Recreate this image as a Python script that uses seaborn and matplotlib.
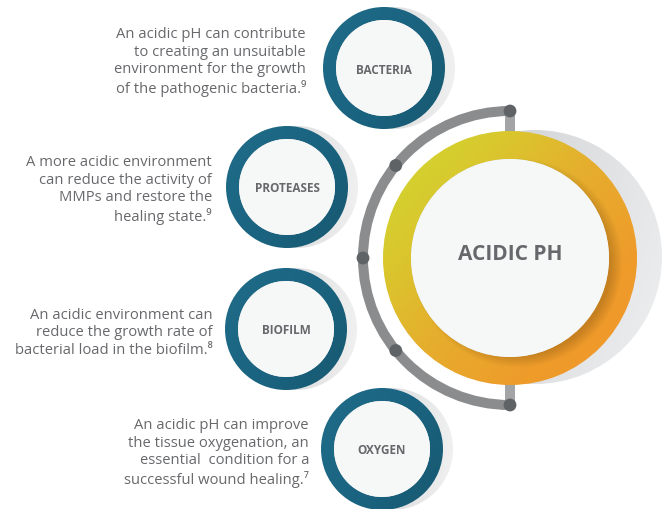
import numpy as np
import matplotlib
matplotlib.use("Agg")
import matplotlib.pyplot as plt
from matplotlib.patches import Circle, Wedge, Arc
from matplotlib.colors import LinearSegmentedColormap
import seaborn as sns
import pandas as pd

# ---- content ----
topics = ["BACTERIA", "PROTEASES", "BIOFILM", "OXYGEN"]
descriptions = [
    "An acidic pH can contribute\nto creating an unsuitable\nenvironment for the growth\nof the pathogenic bacteria.\u2079",
    "A more acidic environment\ncan reduce the activity of\nMMPs and restore the\nhealing state.\u2079",
    "An acidic environment can\nreduce the growth rate of\nbacterial load in the biofilm.\u2078",
    "An acidic pH can improve\nthe tissue oxygenation, an\nessential  condition for a\nsuccessful wound healing.\u2077",
]
center_label = "ACIDIC PH"
arc_dot_angles = [90, 141, 180, 219, 270]

# ---- layout (pixels, y downward) ----
W, H = 663, 510
small_centers = [(384, 69), (287, 188), (286, 330), (382, 450)]
small_r, small_w = 61, 13
text_anchor = [(306, 62), (212, 190), (213, 333), (309, 453)]
big_c = (510, 259)
big_r, big_w = 127, 28
arc_r = 147

TEXT = "#67686b"

sns.set_theme(style="white")
plt.rcParams["font.family"] = ["Open Sans", "DejaVu Sans"]

fig = plt.figure(figsize=(W / 100, H / 100), dpi=100)
ax = fig.add_axes([0, 0, 1, 1])
ax.set_xlim(0, W)
ax.set_ylim(H, 0)
ax.axis("off")


def grad_fill(patch, colors, direction=(1, 1), z=1, n=200):
    patch.set_facecolor("none")
    patch.set_edgecolor("none")
    ax.add_patch(patch)
    bb = patch.get_path().get_extents(patch.get_patch_transform())
    x0, y0, x1, y1 = bb.x0, bb.y0, bb.x1, bb.y1
    X, Y = np.meshgrid(np.linspace(0, 1, n), np.linspace(0, 1, n))
    t = X * direction[0] + Y * direction[1]
    t = (t - t.min()) / (t.max() - t.min() + 1e-9)
    cmap = LinearSegmentedColormap.from_list("g", colors)
    im = ax.imshow(t, cmap=cmap, extent=(x0, x1, y1, y0), origin="upper",
                   aspect="auto", zorder=z, interpolation="bilinear")
    im.set_clip_path(patch)
    return im


# ---- big circle shadow ----
grad_fill(Circle((big_c[0] + 25, big_c[1] - 1), big_r), ["#c3c4c6", "#dcdddf", "#eeeff0"], (1, 0.3), z=1)

# ---- gray arc ----
ax.add_patch(Arc(big_c, 2 * arc_r, 2 * arc_r, theta1=90, theta2=270,
                 color="#8b8c8e", lw=7.2, zorder=2))
ax.plot([big_c[0], big_c[0]], [big_c[1] - arc_r, big_c[1] - big_r + 3], color="#a3a4a6",
        lw=7.2, solid_capstyle="butt", zorder=2)
ax.plot([big_c[0], big_c[0]], [big_c[1] + arc_r, big_c[1] + big_r - 3], color="#a3a4a6",
        lw=7.2, solid_capstyle="butt", zorder=2)
dots = pd.DataFrame({
    "x": [big_c[0] + arc_r * np.cos(np.radians(a)) for a in arc_dot_angles],
    "y": [big_c[1] + arc_r * np.sin(np.radians(a)) for a in arc_dot_angles],
})
sns.scatterplot(data=dots, x="x", y="y", ax=ax, s=85, color="#5f6366",
                edgecolor="none", zorder=3, legend=False)
ax.set_xlim(0, W)
ax.set_ylim(H, 0)
ax.axis("off")

# ---- orange ring ----
grad_fill(Wedge(big_c, big_r, 0, 360, width=big_w),
          ["#cdd930", "#d9c82e", "#e6ad2d", "#ee9c2b", "#f0952a"], (1, 0.9), z=4)
# soft shadow of the inner disc cast on the ring (right / lower side)
ring_clip = Wedge(big_c, big_r, 0, 360, width=big_w, facecolor="none", edgecolor="none")
ax.add_patch(ring_clip)
n = 300
x0, x1 = big_c[0] - big_r, big_c[0] + big_r
y0, y1 = big_c[1] - big_r, big_c[1] + big_r
X, Y = np.meshgrid(np.linspace(x0, x1, n), np.linspace(y0, y1, n))
d = np.hypot(X - (big_c[0] + 8), Y - (big_c[1] + 5))
r_in = big_r - big_w
alpha = 0.32 * np.clip((r_in + 6 - d) / 12, 0, 1)
rgba = np.zeros((n, n, 4))
rgba[..., 0], rgba[..., 1], rgba[..., 2] = 0.45, 0.28, 0.05
rgba[..., 3] = alpha
im = ax.imshow(rgba, extent=(x0, x1, y1, y0), origin="upper", aspect="auto",
               zorder=5, interpolation="bilinear")
im.set_clip_path(ring_clip)
ax.add_patch(Circle(big_c, r_in, facecolor="#f6f8f8", edgecolor="none", zorder=6))
ax.text(big_c[0], big_c[1] - 5, center_label, ha="center", va="center",
        fontsize=15, fontweight="bold", color=TEXT, zorder=7)

# ---- small circles ----
for (cx, cy), lab, desc, (tx, ty) in zip(small_centers, topics, descriptions, text_anchor):
    grad_fill(Circle((cx + 10, cy), small_r), ["#c6c7c9", "#dedfe0", "#f0f0f1"], (1, 0), z=7)
    grad_fill(Wedge((cx, cy), small_r, 0, 360, width=small_w),
              ["#1f6c89", "#1b6481", "#175870"], (1, 0.6), z=8)
    ax.add_patch(Circle((cx, cy), small_r - small_w, facecolor="#f6f8f8",
                        edgecolor="none", zorder=9))
    ax.text(cx, cy + 1, lab, ha="center", va="center", fontsize=8.5,
            fontweight="bold", color=TEXT, zorder=10)
    ax.text(tx, ty, desc, ha="right", va="center", multialignment="right",
            fontsize=10.6, color=TEXT, linespacing=1.22, zorder=10,
            fontweight="medium")

fig.savefig("out.png", dpi=100, facecolor="white")
